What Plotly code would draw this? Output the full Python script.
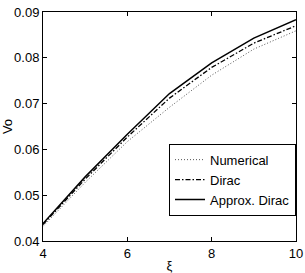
import plotly.graph_objects as go

xi = [4, 5, 6, 7, 8, 9, 10]
numerical = [0.0432, 0.0528, 0.0617, 0.0692, 0.0762, 0.0819, 0.0859]
dirac = [0.0436, 0.0535, 0.0627, 0.0712, 0.0779, 0.0832, 0.0870]
approx_dirac = [0.0438, 0.0540, 0.0633, 0.0722, 0.0789, 0.0843, 0.0883]

x_ticks = [4, 6, 8, 10]
y_ticks = [0.04, 0.05, 0.06, 0.07, 0.08, 0.09]
y_tick_labels = ["0.04", "0.05", "0.06", "0.07", "0.08", "0.09"]

font = "Liberation Sans, Arial, sans-serif"

fig = go.Figure()
fig.add_trace(go.Scatter(x=xi, y=numerical, mode="lines", name="Numerical",
                         line=dict(color="#555555", width=1, dash="1px,2px")))
fig.add_trace(go.Scatter(x=xi, y=dirac, mode="lines", name="Dirac",
                         line=dict(color="black", width=1.3, dash="5px,2px,1.5px,2px")))
fig.add_trace(go.Scatter(x=xi, y=approx_dirac, mode="lines", name="Approx. Dirac",
                         line=dict(color="black", width=1.5)))

axis_common = dict(showgrid=False, zeroline=False, showline=True, linecolor="black",
                   linewidth=1, mirror="allticks", ticks="inside", ticklen=4,
                   tickcolor="black", automargin=False, ticklabeloverflow="allow",
                   tickfont=dict(family=font, size=13, color="black"))

fig.update_layout(
    width=305, height=273,
    margin=dict(l=43, r=9, t=12, b=32),
    paper_bgcolor="white", plot_bgcolor="white",
    font=dict(family=font, size=13, color="black"),
    showlegend=True,
    legend=dict(x=1.0, xanchor="right", y=0.425, yanchor="top",
                bgcolor="white", bordercolor="black", borderwidth=1,
                font=dict(family=font, size=13, color="black"),
                tracegroupgap=0, itemwidth=30),
    xaxis=dict(range=[4, 10], tickvals=x_ticks,
               title=dict(text="ξ", font=dict(family=font, size=13)),
               **axis_common),
    yaxis=dict(range=[0.04, 0.09], tickvals=y_ticks, ticktext=y_tick_labels,
               title=dict(text="Vo", font=dict(family=font, size=13)),
               **axis_common),
)

fig.write_html("out.html", config={"displayModeBar": False},
               post_script="document.body.style.margin='0';document.body.style.overflow='hidden';")
